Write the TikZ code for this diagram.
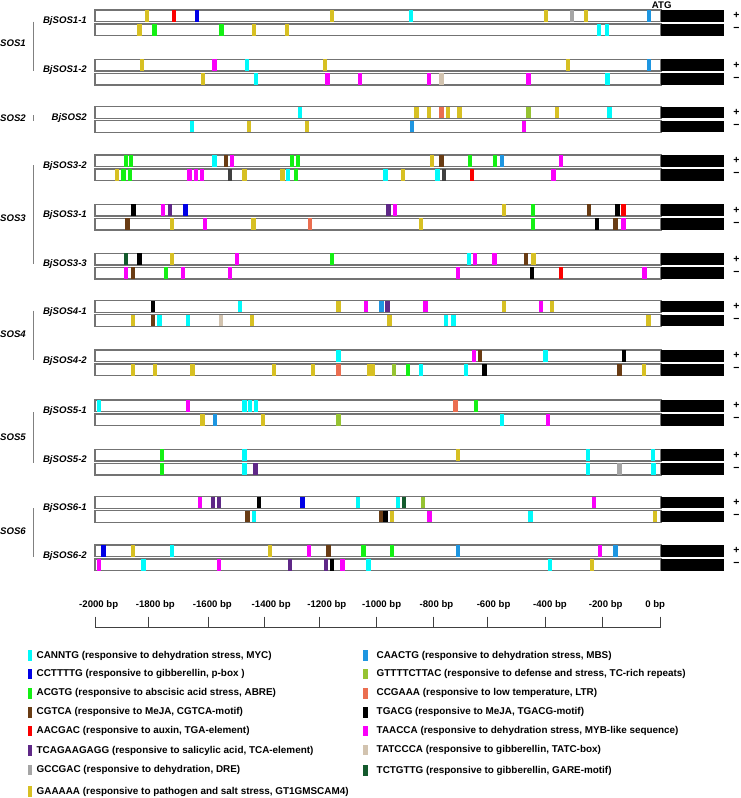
\documentclass[tikz,border=0pt]{standalone}
\usepackage{fontspec}
\setmainfont{Liberation Sans}
\definecolor{cy}{RGB}{0,250,250}
\definecolor{bl}{RGB}{0,0,230}
\definecolor{gr}{RGB}{20,240,20}
\definecolor{br}{RGB}{105,60,20}
\definecolor{rd}{RGB}{250,0,0}
\definecolor{pu}{RGB}{95,40,135}
\definecolor{gy}{RGB}{165,165,165}
\definecolor{go}{RGB}{215,192,35}
\definecolor{lb}{RGB}{30,150,225}
\definecolor{yg}{RGB}{150,195,50}
\definecolor{co}{RGB}{235,110,80}
\definecolor{bk}{RGB}{0,0,0}
\definecolor{mg}{RGB}{250,0,250}
\definecolor{tn}{RGB}{210,195,175}
\definecolor{dg}{RGB}{20,90,45}
\definecolor{dk}{RGB}{64,64,64}
\definecolor{strandgray}{RGB}{115,115,115}
\newcommand\drawstrand[2]{%
  \draw[strandbox] (95,#1) rectangle (661,#1+11.7);
  \fill[black] (661,#1) rectangle (724,#1+11.7);
  \foreach \c/\p in {#2}{\fill[\c] (\p-2.2,#1) rectangle (\p+2.2,#1+11.7);}
}
\newcommand\drawgene[5]{% #1 top, #2 name, #3 label, #4 plus list, #5 minus list
  \drawstrand{#1}{#4}
  \drawstrand{#1+14}{#5}
  \node[genelab] (#2) at (87,#1+11) {#3};
  \node[signlab] (#2p) at (736.5,#1+5.8) {+};
  \node[signlab] (#2m) at (736.5,#1+19.8) {\textminus};
}
\begin{document}
\begin{tikzpicture}[x=1pt,y=-1pt,
  strandbox/.style={draw=strandgray, line width=1.2pt, fill=white},
  genelab/.style={anchor=east, inner sep=0pt, font=\fontsize{9.6}{11}\selectfont\bfseries\itshape},
  grplab/.style={anchor=east, inner sep=0pt, font=\fontsize{9.6}{11}\selectfont\bfseries\itshape},
  grpline/.style={draw=gray, line width=0.9pt},
  signlab/.style={inner sep=0pt, font=\fontsize{10.5}{12}\selectfont\bfseries},
  scalelab/.style={inner sep=0pt, font=\fontsize{9.6}{11}\selectfont\bfseries},
  leglab/.style={anchor=west, inner sep=0pt, font=\fontsize{9.9}{11}\selectfont\bfseries},
  axisline/.style={draw=black!75, line width=0.9pt}]
\useasboundingbox (0,0) rectangle (740,798);
\fill[white] (0,0) rectangle (740,798);

\drawgene{10}{g11}{BjSOS1-1}
 {go/146.7, rd/174, bl/196.7, go/331.7, cy/411, go/546, gy/572, go/585.7, lb/648.7}
 {go/139.3, gr/154.3, gr/221.3, go/254, go/286.7, cy/598.7, cy/607}
\drawgene{59.3}{g12}{BjSOS1-2}
 {go/141.7, mg/214.3, cy/246.7, go/325, go/567.7, lb/648.7}
 {go/202.7, cy/256, mg/327.3, mg/360, mg/429, tn/441.3, mg/528.3, cy/607.3}
\drawgene{106.7}{g2}{BjSOS2}
 {cy/300, go/416.3, go/429, co/441.3, go/448, go/459.3, yg/528.3, go/556.7, cy/609.3}
 {cy/191.7, go/248.7, go/307, lb/412, mg/524}
\drawgene{155}{g32}{BjSOS3-2}
 {gr/126, gr/130.7, cy/214.3, br/225.7, mg/232, gr/291.7, gr/297.7, go/432, br/441.3, gr/470, gr/495, lb/501.7, mg/561}
 {go/116.7, gr/123.3, gr/130, mg/189.3, mg/196, mg/202, dk/230, go/244.3, go/282.3, cy/288, gr/295.7, cy/385.3, go/402.7, cy/437.3, dk/444, rd/471.7, mg/553.3}
\drawgene{204.3}{g31}{BjSOS3-1}
 {bk/133.3, mg/162.7, pu/170, bl/185.3, pu/388.3, mg/394.7, go/504, gr/532.7, br/589, bk/617.3, rd/623.3}
 {br/127.3, go/171.7, mg/205, go/253.3, co/310, go/420.7, gr/532.7, bk/596.7, br/615.3, mg/623.3}
\drawgene{253.3}{g33}{BjSOS3-3}
 {dg/126, bk/139.3, go/171.7, mg/236.7, gr/331.7, cy/469, mg/475, mg/494.3, br/526, go/533.3}
 {mg/126, br/132.7, gr/165.7, mg/182.7, mg/230, mg/457.7, bk/531.7, rd/561, mg/644.3}
\drawgene{300.7}{g41}{BjSOS4-1}
 {bk/152.7, cy/240, go/338.3, mg/366, lb/381.3, pu/387.3, mg/425.3, go/504, mg/541, go/552}
 {go/132.7, br/152.7, cy/159.3, cy/188, tn/220.7, go/252, go/389.3, cy/446, cy/453.3, go/648.3}
\drawgene{350}{g42}{BjSOS4-2}
 {cy/338.3, mg/473.7, br/480, cy/545.3, bk/624}
 {go/132.7, go/155, go/192.3, go/274, go/312.7, co/338.3, go/369, go/373, yg/394, gr/407.7, cy/420.7, cy/466, bk/484.3, br/619.3, go/644}
\drawgene{400}{g51}{BjSOS5-1}
 {cy/99, mg/188, cy/244.3, cy/250, cy/255.7, co/455.3, gr/475.7}
 {go/202.3, lb/215, go/262.7, yg/338.3, cy/502, mg/547.7}
\drawgene{449.3}{g52}{BjSOS5-2}
 {gr/161.7, cy/244.3, go/457.7, cy/587.7, cy/652.7}
 {gr/161.7, cy/244.3, pu/255.3, cy/587.7, gy/619.3, cy/653.3}
\drawgene{496.7}{g61}{BjSOS6-1}
 {mg/200, pu/212.7, pu/218.7, bk/258.7, bl/302.3, cy/357.7, cy/398, dg/404, yg/422.7, mg/594}
 {br/247.3, cy/254, br/381, bk/385.3, go/391.7, mg/429.3, cy/530.3, go/655}
\drawgene{545}{g62}{BjSOS6-2}
 {bl/103.3, go/132.7, cy/172, go/270, mg/308.7, br/328.3, gr/363.3, gr/391.7, lb/457.7, mg/600, lb/615.3}
 {mg/99, cy/143.3, mg/218.7, pu/289.7, pu/326, bk/331.7, mg/342.3, cy/368.5, cy/549.7, go/591.7}

% ATG
\node[scalelab] (atg) at (661.7,5) {ATG};

% group brackets
\coordinate (s1a) at (33.7,21.7); \coordinate (s1b) at (33.7,71);
\draw[grpline] (s1a) -- (s1b);
\node[grplab] (sos1) at (26,43.3) {SOS1};
\coordinate (s2a) at (33.7,115); \coordinate (s2b) at (33.7,121);
\draw[grpline] (s2a) -- (s2b);
\node[grplab] (sos2) at (26,118.3) {SOS2};
\coordinate (s3a) at (33.7,165); \coordinate (s3b) at (33.7,264);
\draw[grpline] (s3a) -- (s3b);
\node[grplab] (sos3) at (26,217.7) {SOS3};
\coordinate (s4a) at (33.7,310.7); \coordinate (s4b) at (33.7,360);
\draw[grpline] (s4a) -- (s4b);
\node[grplab] (sos4) at (26,334.3) {SOS4};
\coordinate (s5a) at (33.7,412); \coordinate (s5b) at (33.7,463);
\draw[grpline] (s5a) -- (s5b);
\node[grplab] (sos5) at (26,437) {SOS5};
\coordinate (s6a) at (33.7,508.3); \coordinate (s6b) at (33.7,556.7);
\draw[grpline] (s6a) -- (s6b);
\node[grplab] (sos6) at (26,530.7) {SOS6};

% scale
\coordinate (axL) at (95.5,627.6); \coordinate (axR) at (660,627.6);
\draw[axisline] (axL) -- (axR);
\foreach \t/\l/\n in {95.5/98.7/-2000, 148.8/155.3/-1800, 208.8/212.4/-1600, 264.9/271.2/-1400, 319.7/326.8/-1200, 376.9/381.7/-1000, 433.8/436.5/-800, 487.5/493.6/-600, 545.5/550/-400, 602.7/605.7/-200, 660/655.2/0}{
  \draw[axisline] (\t,616.6) -- (\t,627.6);
  \node[scalelab] (tick\n) at (\l,604.7) {\n\ bp};
}

% legend
\foreach \i/\y/\c/\t in {
 1/655.7/cy/{CANNTG (responsive to dehydration stress, MYC)},
 2/674/bl/{CCTTTTG (responsive to gibberellin, p-box )},
 3/693.3/gr/{ACGTG (responsive to abscisic acid stress, ABRE)},
 4/712.3/br/{CGTCA (responsive to MeJA, CGTCA-motif)},
 5/731/rd/{AACGAC (responsive to auxin, TGA-element)},
 6/750.7/pu/{TCAGAAGAGG (responsive to salicylic acid, TCA-element)},
 7/770/gy/{GCCGAC (responsive to dehydration, DRE)},
 8/791.7/go/{GAAAAA (responsive to pathogen and salt stress, GT1GMSCAM4)}}{
  \fill[\c] (27.5,\y-5.3) rectangle (31.8,\y+5.3);
  \node[leglab] (L\i) at (36.5,\y) {\t};
}
\foreach \i/\y/\c/\t in {
 1/655.7/lb/{CAACTG (responsive to dehydration stress, MBS)},
 2/674/yg/{GTTTTCTTAC (responsive to defense and stress, TC-rich repeats)},
 3/693.3/co/{CCGAAA (responsive to low temperature, LTR)},
 4/712.3/bk/{TGACG (responsive to MeJA, TGACG-motif)},
 5/731/mg/{TAACCA (responsive to dehydration stress, MYB-like sequence)},
 6/750/tn/{TATCCCA (responsive to gibberellin, TATC-box)},
 7/770.7/dg/{TCTGTTG (responsive to gibberellin, GARE-motif)}}{
  \fill[\c] (363.3,\y-5.3) rectangle (367.8,\y+5.3);
  \node[leglab] (R\i) at (376.5,\y) {\t};
}
\end{tikzpicture}
\end{document}
